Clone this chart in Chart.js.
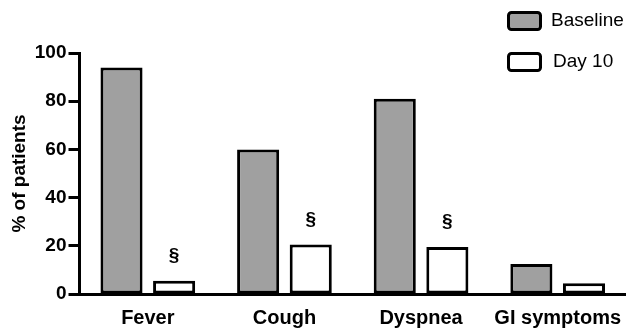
<!DOCTYPE html>
<html>
<head>
<meta charset="utf-8">
<script src="https://cdn.jsdelivr.net/npm/chart.js@4"></script>
<style>
  html, body { margin: 0; padding: 0; background: #fff; }
  #wrap { width: 626px; height: 333px; }
</style>
</head>
<body>
<div id="wrap"><canvas id="chart"></canvas></div>
<script>
// --- data ---
const categories = ['Fever', 'Cough', 'Dyspnea', 'GI symptoms'];
const baseline = [94, 60, 81, 12.5];
const day10 = [5.5, 20.5, 19.5, 4.5];
const markers = ['§', '§', '§', ''];
const yTicks = [0, 20, 40, 60, 80, 100];

const FONT = '"Liberation Sans", Arial, Helvetica, sans-serif';
const GREY = '#a0a0a0';

// --- § signs above the day 10 bars ---
const markerPlugin = {
  id: 'markers',
  afterDatasetsDraw(chart) {
    const ctx = chart.ctx;
    const meta = chart.getDatasetMeta(1);
    ctx.save();
    ctx.font = 'bold 19px ' + FONT;
    ctx.fillStyle = '#000';
    ctx.textAlign = 'center';
    ctx.textBaseline = 'middle';
    meta.data.forEach((bar, i) => {
      if (markers[i]) ctx.fillText(markers[i], bar.x, bar.y - 25);
    });
    ctx.restore();
  }
};

// --- legend stacked in the top right corner ---
const legendPlugin = {
  id: 'cornerLegend',
  afterDraw(chart) {
    const ctx = chart.ctx;
    ctx.save();
    chart.data.datasets.forEach((ds, i) => {
      const y = 21 + i * 41;
      ctx.beginPath();
      ctx.roundRect(508.5, y - 8.5, 32, 17, 3);
      ctx.fillStyle = ds.backgroundColor;
      ctx.fill();
      ctx.lineWidth = 3;
      ctx.strokeStyle = '#000';
      ctx.stroke();
      ctx.font = '19px ' + FONT;
      ctx.fillStyle = '#000';
      ctx.textBaseline = 'middle';
      ctx.fillText(ds.label, i === 0 ? 551 : 553, y);
    });
    ctx.restore();
  }
};

new Chart(document.getElementById('chart'), {
  type: 'bar',
  data: {
    labels: categories,
    datasets: [
      { label: 'Baseline', data: baseline, backgroundColor: GREY },
      { label: 'Day 10', data: day10, backgroundColor: '#ffffff' }
    ]
  },
  options: {
    responsive: true,
    maintainAspectRatio: false,
    animation: false,
    layout: { padding: { top: 53, right: 0, left: 8, bottom: 3 } },
    datasets: {
      bar: {
        borderColor: '#000',
        borderWidth: 3,
        borderSkipped: false,
        categoryPercentage: 0.77,
        barPercentage: 0.8
      }
    },
    plugins: {
      legend: { display: false },
      tooltip: { enabled: false }
    },
    scales: {
      x: {
        grid: { display: false, drawTicks: false },
        border: { display: true, color: '#000', width: 3 },
        ticks: {
          color: '#000', font: { family: FONT, size: 20, weight: 'bold' },
          padding: 12, maxRotation: 0, autoSkip: false
        },
        afterFit(scale) {
          scale.height = 36;
          scale.paddingLeft = 0;
          scale.paddingRight = 0;
        }
      },
      y: {
        min: 0,
        max: 100,
        afterBuildTicks(scale) { scale.ticks = yTicks.map(v => ({ value: v })); },
        grid: { drawOnChartArea: false, drawTicks: true, tickLength: 11, tickWidth: 3, tickColor: '#000' },
        border: { display: true, color: '#000', width: 3 },
        ticks: { color: '#000', font: { family: FONT, size: 19, weight: 'bold' }, padding: 2 },
        title: {
          display: true,
          text: '% of patients',
          color: '#000',
          font: { family: FONT, size: 19, weight: 'bold' },
          padding: { top: 0, bottom: 2 }
        }
      }
    }
  },
  plugins: [markerPlugin, legendPlugin]
});
</script>
</body>
</html>
